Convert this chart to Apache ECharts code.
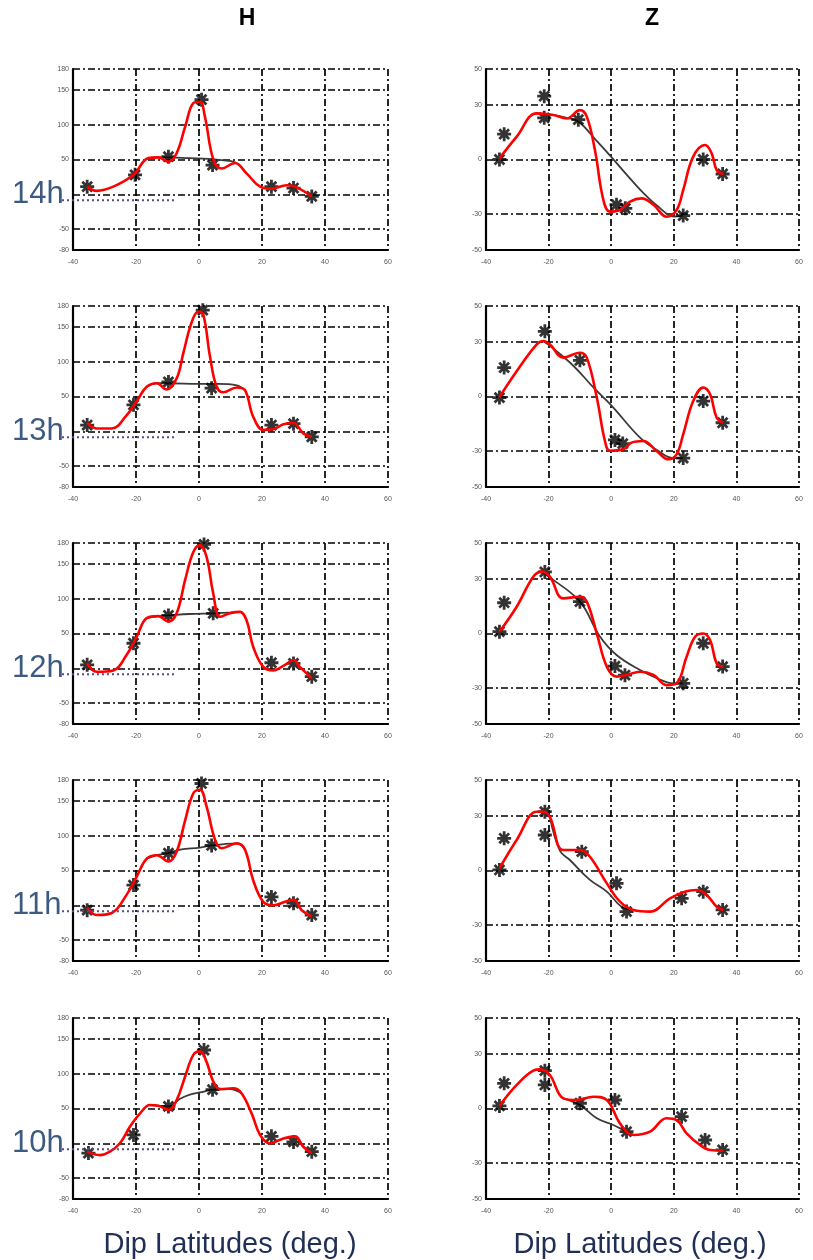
<!DOCTYPE html>
<html>
<head>
<meta charset="utf-8">
<script src="https://cdn.jsdelivr.net/npm/echarts@6/dist/echarts.min.js"></script>
<style>
  html, body { margin: 0; padding: 0; background: #fff; }
  #chart { width: 813px; height: 1260px; }
</style>
</head>
<body>
<div id="chart"></div>
<script>
// ---- tick labels / categories ----
const hours = ['14h', '13h', '12h', '11h', '10h'];
const xTicks = [-40, -20, 0, 20, 40, 60];
const hTicks = [-80, -50, 0, 50, 100, 150, 180];
const hLabelTicks = [-80, -50, 50, 100, 150, 180];
const zTicks = [-50, -30, 0, 30, 50];

// ---- H component (obs = stars, fit = red curve, base = grey curve) ----
const H14_obs = [[-35.5,11],[-20.3,28],[-9.7,54],[0.8,136],[4.3,42],[23,11],[30,9],[35.8,-3]];
const H14_fit = [[-35.5,11],[-32.5,5],[-27.2,11],[-20.8,28],[-16.1,52],[-12.9,53],[-9.7,47],[-7.1,59],[-4.4,97],[-1.8,131],[0.3,133],[1.9,111],[4.6,49],[7.2,37],[11.4,45],[15.1,30],[19.4,11],[23,8],[27.8,13],[30.5,11],[35.8,-3]];
const H14_base = [[-16.1,52],[-12.9,53],[-9.7,53],[-3,52],[3,51],[7.2,49],[11.4,46],[15.1,30]];

const H13_obs = [[-35.5,9],[-20.8,38],[-9.7,71],[1.2,174],[4,62],[23,9],[30,11],[35.8,-8]];
const H13_fit = [[-35.5,12],[-32.5,4],[-27.7,4],[-23,23],[-19.8,43],[-16.6,64],[-13.4,69],[-10.3,60],[-7.1,76],[-5,112],[-2.3,157],[-0.2,172],[1.4,167],[3.5,107],[5.6,64],[7.7,56],[12,63],[14.6,59],[17.2,21],[20.4,2],[23.6,3],[26.8,10],[30,12],[33.1,-3],[35.8,-8]];
const H13_base = [[-16.6,64],[-13.4,69],[-9.7,69],[0,68],[6,68],[12,66],[14.6,59]];

const H12_obs = [[-35.5,5],[-20.8,36],[-9.7,76],[1.6,178],[4.5,79],[23,8],[30,7],[35.8,-12]];
const H12_fit = [[-35.5,7],[-32.5,-5],[-27.2,-3],[-23,19],[-19.8,45],[-16.6,72],[-12.9,75],[-9.7,67],[-7.1,79],[-4.4,127],[-1.8,167],[0.3,177],[2.4,160],[4.5,108],[6.7,74],[9.8,79],[13,81],[15.1,69],[17.2,31],[20.4,2],[23.6,-3],[27.3,5],[30,12],[32,2],[35.8,-14]];
const H12_base = [[-16.6,72],[-12.9,75],[-9.7,76],[-3,78],[4.5,79],[9.8,80],[13,81],[15.1,69]];

const H11_obs = [[-35.5,-7],[-20.8,29],[-9.7,75],[0.8,175],[4,86],[23,12],[30,3],[35.8,-14]];
const H11_fit = [[-35.5,-4],[-32.5,-14],[-27.7,-11],[-23,15],[-19.8,41],[-16.6,67],[-13.4,72],[-9.7,63],[-7.1,77],[-4.4,122],[-1.8,161],[0.3,166],[2.4,142],[5.1,94],[7.2,82],[12,89],[14.6,80],[17.2,36],[20.4,5],[23.6,0],[27.3,5],[30,8],[32.6,-7],[35.8,-16]];
const H11_base = [[-16.6,67],[-13.4,72],[-9.7,75],[-6,80],[0.3,83],[4,86],[8,88],[12,89],[14.6,80]];

const H10_obs = [[-35.1,-14],[-20.8,12],[-9.7,53],[1.6,134],[4.3,77],[23,10],[30,2],[35.8,-12]];
const H10_fit = [[-35.5,-12],[-31.4,-17],[-28.3,-12],[-25.1,0],[-21.9,24],[-18.7,43],[-15.6,55],[-12.9,54],[-9.7,48],[-7.1,62],[-4.4,96],[-1.8,127],[0.3,132],[2.4,117],[4.5,89],[6.7,78],[10.9,79],[13.5,72],[16.7,43],[19.4,12],[22.5,0],[26.8,7],[30.5,10],[33.1,-5],[35.8,-14]];
const H10_base = [[-15.6,55],[-12.9,54],[-9.7,53],[-6,64],[-2.9,70],[0.3,73],[4.5,77],[9.8,78],[13.5,72]];

// ---- Z component ----
const Z14_obs = [[-35.7,0],[-34.2,14],[-21.4,35],[-21.4,23],[-10.5,22],[1.7,-25],[4.5,-27],[23,-31],[29.4,0],[35.6,-8]];
const Z14_fit = [[-35.7,0.6],[-30.2,12.6],[-23.8,25.5],[-18.5,24.6],[-14.2,22.7],[-10,27.3],[-7.8,23.7],[-5.2,5.2],[-2.5,-22.4],[-0.4,-28.8],[2.8,-27.9],[6,-23.3],[9.7,-21.5],[13.5,-25],[17.7,-31.6],[20.9,-27.9],[23,-16.9],[26.2,1.6],[30,8],[32.1,3.4],[33.7,-5.8],[35.8,-8]];
const Z14_base = [[-23.8,25.5],[-18.5,24.6],[-14.2,23],[-10.5,21],[-5,11],[0,1.5],[5,-8.5],[10,-18],[15,-26],[20,-31.5],[23,-31]];

const Z13_obs = [[-35.7,-0.6],[-34.2,16],[-21.2,36],[-10,20],[1.2,-24],[3.7,-26],[23,-34],[29.4,-2.5],[35.6,-14.5]];
const Z13_fit = [[-35.7,-0.3],[-30.2,14],[-23.8,28.8],[-21.7,30.7],[-19.6,28.8],[-15.3,21.5],[-10,24.2],[-7.8,21.5],[-4.6,-0.6],[-2,-24.6],[-0.4,-30],[3.9,-29.2],[6.5,-25.5],[10.3,-24.6],[14.5,-30.1],[18.3,-34.7],[20.9,-32],[23,-20.9],[26.2,-2.5],[29.4,4.9],[31.6,1.2],[33.7,-11.7],[35.8,-14.5]];
const Z13_base = [[-21.7,30.7],[-19.6,28],[-12.1,17],[-5.7,5],[0.1,-5],[9.2,-22.7],[15,-30],[19.8,-34],[23,-34]];

const Z12_obs = [[-35.7,1],[-34.2,17],[-21.2,34],[-10,17.6],[1.2,-18],[4.4,-23],[23,-27.5],[29.4,-5.4],[35.6,-18.3]];
const Z12_fit = [[-35.7,1],[-30.2,14.8],[-24.9,31.4],[-22.2,34.2],[-19.6,31.4],[-15.3,19.4],[-10,20.3],[-7.8,17.6],[-4.6,0],[-1.4,-18.3],[1.7,-23.8],[4.9,-22.9],[9.2,-21.1],[13.5,-22.9],[17.7,-28.5],[20.9,-27.5],[24.1,-12.8],[26.8,-1.8],[29.4,0],[31.6,-3.6],[33.7,-16.5],[35.8,-18.3]];
const Z12_base = [[-22.2,34],[-19.6,31],[-10,17.6],[-3.6,-1.7],[1.7,-11.9],[9.2,-20.2],[15,-25],[19.8,-27.5],[23,-27.5]];

const Z11_obs = [[-35.7,0.3],[-34.2,17.8],[-21.2,32.5],[-21.2,19.6],[-9.4,10.4],[1.7,-7.1],[4.9,-22.7],[22.5,-15.4],[29.4,-11.7],[35.6,-21.8]];
const Z11_fit = [[-35.7,1.2],[-30.2,16.9],[-23.8,32.5],[-21.7,32.5],[-19.6,29.7],[-15.3,11.3],[-10,11.3],[-6.8,7.6],[-1.4,-7.1],[2.8,-17.2],[7.1,-21.8],[12.4,-22.7],[18.8,-15.4],[23.5,-11.7],[27.3,-10.8],[30.5,-13.5],[33.7,-20],[35.8,-21.8]];
const Z11_base = [[-19.6,29.7],[-16.4,11],[-13.2,5.8],[-6.8,-5.2],[-1.4,-11.7],[3.3,-20],[7.1,-21.8]];

const Z10_obs = [[-35.7,1.4],[-34.2,13.9],[-21.2,20.9],[-21.2,13],[-10,2.9],[1.2,4.7],[4.9,-12.8],[22.5,-4.5],[30,-17.4],[35.6,-22.9]];
const Z10_fit = [[-35.7,1.4],[-30.2,13],[-24.9,20.9],[-22.7,21.6],[-19.6,18.5],[-15.3,5.6],[-11,4.7],[-5.7,6.5],[-1.4,4.7],[2.8,-8.2],[7.1,-14.6],[12.4,-12.8],[17.7,-5.4],[20.9,-6.4],[24.1,-13.7],[28.4,-20.2],[31.6,-22.9],[35.8,-23.3]];
const Z10_base = [[-15.3,5.6],[-10,1.9],[-4.6,-5.4],[0.7,-9.1],[4.9,-12.8],[7.1,-14.6]];

const panelsH = [[H14_obs,H14_fit,H14_base],[H13_obs,H13_fit,H13_base],[H12_obs,H12_fit,H12_base],[H11_obs,H11_fit,H11_base],[H10_obs,H10_fit,H10_base]];
const panelsZ = [[Z14_obs,Z14_fit,Z14_base],[Z13_obs,Z13_fit,Z13_base],[Z12_obs,Z12_fit,Z12_base],[Z11_obs,Z11_fit,Z11_base],[Z10_obs,Z10_fit,Z10_base]];

// ---- layout / style ----
const rowTops = [69, 306, 543, 780, 1018];
const plotH = 181;
const leftX = 73, leftW = 315, rightX = 486, rightW = 313;
const STAR = 'path://M10,2L14,2L14,22L10,22Z M2,10L22,10L22,14L2,14Z M6.4,3.6L20.4,17.6L17.6,20.4L3.6,6.4Z M20.4,6.4L6.4,20.4L3.6,17.6L17.6,3.6Z';
const dashDot = [7, 3, 2, 3];
const labelFont = 'Liberation Sans, Arial, sans-serif';

const grid = [], xAxis = [], yAxis = [], series = [], graphic = [];

function addPanel(idx, left, width, top, isH, data) {
  grid.push({ left: left, top: top, width: width, height: plotH, containLabel: false });
  xAxis.push({
    gridIndex: idx, type: 'value', min: xTicks[0], max: xTicks[xTicks.length - 1], interval: 20,
    axisLine: { show: true, onZero: false, lineStyle: { color: '#000', width: 2.2 } },
    axisTick: { show: false },
    axisLabel: { fontSize: 7, color: '#555', margin: 9, fontFamily: labelFont },
    splitLine: { show: true, lineStyle: { color: '#000', width: 1.7, type: dashDot } }
  });
  const ticks = isH ? hTicks : zTicks;
  yAxis.push({
    gridIndex: idx, type: 'value',
    min: ticks[0], max: ticks[ticks.length - 1],
    axisLine: { show: true, onZero: false, lineStyle: { color: '#000', width: 2.2 } },
    axisTick: { show: false, customValues: ticks },
    axisLabel: { fontSize: 7, color: '#555', margin: 4, fontFamily: labelFont,
                 customValues: isH ? hLabelTicks : zTicks },
    splitLine: { show: true, lineStyle: { color: '#000', width: 1.7, type: dashDot } }
  });
  const [obs, fit, base] = data;
  series.push({
    type: 'line', xAxisIndex: idx, yAxisIndex: idx, data: base,
    smooth: 0.4, symbol: 'none', lineStyle: { color: '#3a3a3a', width: 1.8 }, z: 2, silent: true
  });
  series.push({
    type: 'scatter', xAxisIndex: idx, yAxisIndex: idx, data: obs,
    symbol: STAR, symbolSize: 14, itemStyle: { color: '#000' }, z: 3, silent: true
  });
  series.push({
    type: 'line', xAxisIndex: idx, yAxisIndex: idx, data: fit,
    smooth: 0.4, symbol: 'none', lineStyle: { color: '#ff0000', width: 2.6 }, z: 4, silent: true
  });
}

for (let i = 0; i < 5; i++) {
  addPanel(2 * i, leftX, leftW, rowTops[i], true, panelsH[i]);
  addPanel(2 * i + 1, rightX, rightW, rowTops[i], false, panelsZ[i]);
  const zeroY = rowTops[i] + plotH * 180 / 260;
  graphic.push({
    type: 'text', left: 12, top: zeroY - 15, z: 20,
    style: { text: hours[i], fontSize: 31, fontFamily: labelFont, fill: '#3d5a80' }
  });
  graphic.push({
    type: 'line', z: 20,
    shape: { x1: 62, y1: zeroY + 6, x2: 175, y2: zeroY + 6 },
    style: { stroke: '#5a4a8a', lineWidth: 2, lineDash: [2, 3] }
  });
}

graphic.push({ type: 'text', x: 247, y: 19, z: 20,
  style: { text: 'H', fontSize: 23, fontWeight: 'bold', fontFamily: labelFont, fill: '#000', align: 'center', verticalAlign: 'middle' } });
graphic.push({ type: 'text', x: 652, y: 19, z: 20,
  style: { text: 'Z', fontSize: 23, fontWeight: 'bold', fontFamily: labelFont, fill: '#000', align: 'center', verticalAlign: 'middle' } });
graphic.push({ type: 'text', x: 230, y: 1245, z: 20,
  style: { text: 'Dip Latitudes (deg.)', fontSize: 29, fontFamily: labelFont, fill: '#1f2f55', align: 'center', verticalAlign: 'middle' } });
graphic.push({ type: 'text', x: 640, y: 1245, z: 20,
  style: { text: 'Dip Latitudes (deg.)', fontSize: 29, fontFamily: labelFont, fill: '#1f2f55', align: 'center', verticalAlign: 'middle' } });

const chart = echarts.init(document.getElementById('chart'), null, { renderer: 'canvas' });
chart.setOption({
  animation: false,
  backgroundColor: '#fff',
  grid: grid, xAxis: xAxis, yAxis: yAxis, series: series, graphic: graphic
});
</script>
</body>
</html>
